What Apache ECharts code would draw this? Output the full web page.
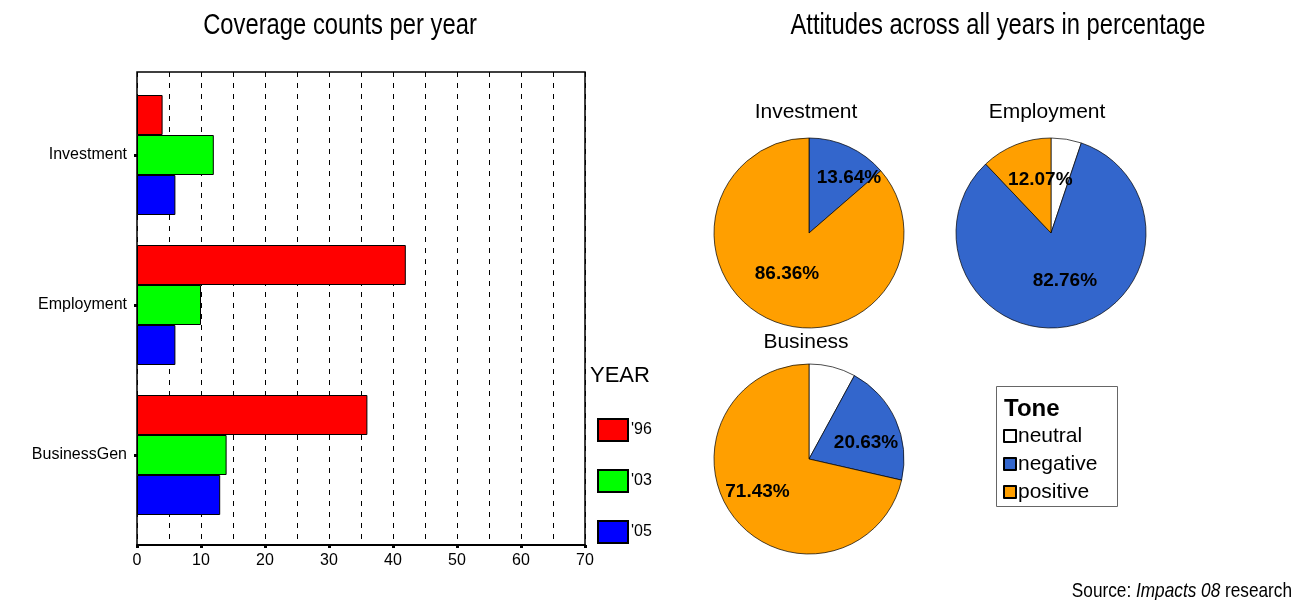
<!DOCTYPE html>
<html>
<head>
<meta charset="utf-8">
<script src="https://cdn.jsdelivr.net/npm/echarts@6/dist/echarts.min.js"></script>
<style>
  html, body { margin: 0; padding: 0; background: #ffffff; }
  #chart { width: 1305px; height: 600px; }
</style>
</head>
<body>
<div id="chart"></div>
<script>
// Coverage counts per topic and year
const topics = ['Investment', 'Employment', 'BusinessGen'];
const years = ["'96", "'03", "'05"];
const counts96 = [4, 42, 36];
const counts03 = [12, 10, 14];
const counts05 = [6, 6, 13];

// Tone shares (%) across all years
const tones = ['neutral', 'negative', 'positive'];
const pieNames = ['Investment', 'Employment', 'Business'];
const toneInvestment = [0, 13.64, 86.36];
const toneEmployment = [5.17, 82.76, 12.07];
const toneBusiness = [7.94, 20.63, 71.43];

const SANS = "'Liberation Sans', Arial, sans-serif";
const NARROW_SCALE = 0.82; // condensed look for headings

const yearColors = ['#ff0000', '#00ff00', '#0000ff'];
const toneColors = ['#ffffff', '#3366cc', '#ff9f00'];

const chart = echarts.init(document.getElementById('chart'), null, { renderer: 'canvas' });

const barSeries = [counts96, counts03, counts05].map((vals, i) => ({
  name: years[i],
  type: 'bar',
  xAxisIndex: 1,
  yAxisIndex: 1,
  data: vals,
  barWidth: 40,
  barGap: '0%',
  itemStyle: { color: yearColors[i], borderColor: '#000', borderWidth: 1 }
}));

// pie placement and label nudges
const pieGeom = [
  { center: [809, 233], shift: [[0, 0], [19, -9], [-1, -5]] },
  { center: [1051, 233], shift: [[0, 0], [3, -2], [8, -6]] },
  { center: [809, 459], shift: [[0, 0], [11, 5], [-12, 1]] }
];

const pieSeries = [toneInvestment, toneEmployment, toneBusiness].map((vals, s) => ({
  name: pieNames[s],
  type: 'pie',
  center: pieGeom[s].center,
  radius: 95,
  startAngle: 90,
  clockwise: true,
  avoidLabelOverlap: false,
  emphasis: { disabled: true },
  data: vals.map((v, i) => ({
    name: tones[i],
    value: v,
    itemStyle: { color: toneColors[i] }
  })),
  itemStyle: { borderColor: '#000', borderWidth: 0.7 },
  label: {
    position: 'inside',
    color: '#000',
    fontFamily: SANS,
    fontWeight: 'bold',
    fontSize: 19,
    formatter: p => (p.value >= 10 ? p.value.toFixed(2) + '%' : '')
  },
  labelLine: { show: false },
  labelLayout: p => {
    const d = pieGeom[s].shift[p.dataIndex];
    return { dx: d[0], dy: d[1] };
  }
}));

const text = (x, y, str, size, extra) => ({
  type: 'text', x: x, y: y, silent: true, z: 10,
  scaleX: (extra && extra.scaleX) || 1,
  style: Object.assign({
    text: str, fill: '#000', font: size + 'px ' + SANS,
    align: 'center', verticalAlign: 'middle'
  }, (extra && extra.style) || {})
});

const option = {
  animation: false,
  backgroundColor: '#ffffff',
  grid: [
    { left: 137, top: 72, width: 448, height: 473, show: true,
      borderColor: '#000', borderWidth: 1.5, backgroundColor: 'transparent' },
    { left: 137, top: 80, width: 448, height: 450 }
  ],
  xAxis: [
    {
      gridIndex: 0, type: 'value', min: 0, max: 70, interval: 10,
      axisLine: { show: true, onZero: false, lineStyle: { color: '#000', width: 2 } },
      axisTick: { show: true, length: 3, lineStyle: { color: '#000', width: 3 } },
      axisLabel: { color: '#000', fontFamily: SANS, fontSize: 16, margin: 8 },
      splitLine: { show: true, lineStyle: { color: '#000', width: 1, type: [5, 6] } },
      minorTick: { show: false, splitNumber: 2 },
      minorSplitLine: { show: true, lineStyle: { color: '#000', width: 1, type: [5, 6] } }
    },
    { gridIndex: 1, type: 'value', min: 0, max: 70, show: false }
  ],
  yAxis: [
    { gridIndex: 0, type: 'value', min: 0, max: 1, show: false },
    {
      gridIndex: 1, type: 'category', data: topics, inverse: true,
      axisLine: { show: false },
      axisTick: { show: true, alignWithLabel: true, length: 3, lineStyle: { color: '#000', width: 3 } },
      axisLabel: { color: '#000', fontFamily: SANS, fontSize: 16, margin: 10 },
      splitLine: { show: false }
    }
  ],
  legend: [
    {
      data: years, orient: 'vertical', left: 597, top: 418,
      itemWidth: 30, itemHeight: 22, itemGap: 27, padding: 0,
      icon: 'rect', selectedMode: false,
      textStyle: { color: '#000', fontFamily: SANS, fontSize: 16, padding: [0, 0, 0, -2] }
    },
    {
      data: tones, orient: 'vertical', left: 1003, top: 425,
      itemWidth: 12, itemHeight: 12, itemGap: 6, padding: 0,
      icon: 'rect', selectedMode: false,
      textStyle: { color: '#000', fontFamily: SANS, fontSize: 21, lineHeight: 22, padding: [0, 0, 0, -3] }
    }
  ],
  graphic: [
    text(340, 26, 'Coverage counts per year', 29, { scaleX: NARROW_SCALE }),
    text(998, 26, 'Attitudes across all years in percentage', 29, { scaleX: NARROW_SCALE }),
    text(806, 112, pieNames[0], 21),
    text(1047, 112, pieNames[1], 21),
    text(806, 342, pieNames[2], 21),
    text(590, 376, 'YEAR', 22, { style: { align: 'left' } }),
    { type: 'rect', silent: true, shape: { x: 996.5, y: 386.5, width: 121, height: 120 },
      style: { fill: 'none', stroke: '#666', lineWidth: 1 } },
    text(1004, 409, 'Tone', 24, { style: { align: 'left', font: 'bold 24px ' + SANS } }),
    {
      type: 'text', silent: true, x: 1292, y: 591, scaleX: NARROW_SCALE,
      style: {
        text: 'Source: {i|Impacts 08} research',
        align: 'right', verticalAlign: 'middle', fill: '#000',
        font: '21px ' + SANS,
        rich: { i: { fontStyle: 'italic', fontFamily: SANS, fontSize: 21 } }
      }
    }
  ],
  series: barSeries.concat(pieSeries)
};

chart.setOption(option);
</script>
</body>
</html>
